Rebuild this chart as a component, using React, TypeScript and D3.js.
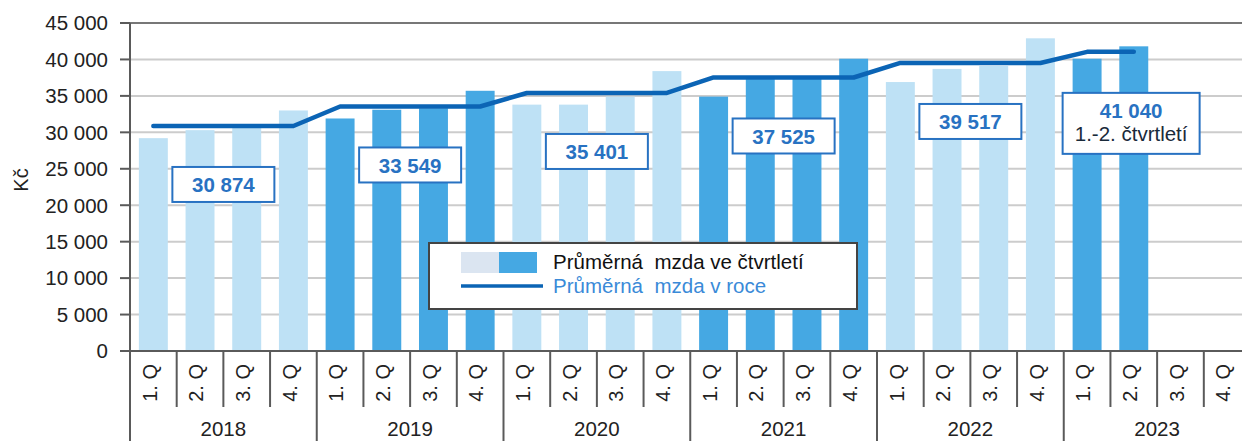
import React from "react";
import * as d3 from "d3";

const years = ["2018", "2019", "2020", "2021", "2022", "2023"];
const quarterLabels = ["1. Q", "2. Q", "3. Q", "4. Q"];
const wage2018 = [29200, 30300, 30700, 33000];
const wage2019 = [31900, 33100, 33300, 35700];
const wage2020 = [33800, 33800, 34900, 38400];
const wage2021 = [34900, 37300, 37400, 40100];
const wage2022 = [36900, 38700, 39100, 42900];
const wage2023 = [40100, 41800, null, null];
const annualWage = [30874, 33549, 35401, 37525, 39517, 41040];
const annualLabels = ["30 874", "33 549", "35 401", "37 525", "39 517", "41 040"];
const yTicks = [0, 5000, 10000, 15000, 20000, 25000, 30000, 35000, 40000, 45000];
const legendQuarter = "Průměrná  mzda ve čtvrtletí";
const legendYear = "Průměrná  mzda v roce";
const partialNote = "1.-2. čtvrtletí";

const quarterlyByYear = [wage2018, wage2019, wage2020, wage2021, wage2022, wage2023];

type Row = { key: string; year: number; q: number; value: number | null };
const rows: Row[] = [];
years.forEach((y, yi) =>
  quarterLabels.forEach((q, qi) =>
    rows.push({ key: `${y}-${qi}`, year: yi, q: qi, value: quarterlyByYear[yi][qi] })
  )
);

const W = 1242;
const H = 441;
const left = 130;
const right = 1250.5;
const top = 23;
const bottom = 351;

const LIGHT = "#bee1f5";
const DARK = "#45a8e3";
const LINE = "#0b64b5";
const LABEL_BLUE = "#2872c2";
const AXIS = "#5a5a5a";
const GRID = "#cccccc";
const FONT = "'Liberation Sans', Arial, sans-serif";

function fmt(v: number) {
  return d3.format(",")(v).replace(/,/g, " ");
}

export default function App() {
  const x = d3.scaleBand<string>().domain(rows.map((r) => r.key)).range([left, right]).paddingInner(0.38).paddingOuter(0.19);
  const xc = d3.scaleBand<string>().domain(rows.map((r) => r.key)).range([left, right]);
  const y = d3.scaleLinear().domain([0, 45000]).range([bottom, top]);
  const bw = xc.bandwidth();

  const linePts = rows
    .filter((r) => r.value !== null)
    .map((r) => [xc(r.key)! + bw / 2, y(annualWage[r.year])] as [number, number]);
  const linePath = d3.line()(linePts)!;

  const yearStart = (i: number) => xc(`${years[i]}-0`)!;
  const yearCenter = (i: number) => yearStart(i) + bw * 2;

  return (
    <svg width={W} height={H} style={{ position: "absolute", left: 0, top: 0, background: "#fff" }} fontFamily={FONT}>
      {/* grid */}
      {yTicks.map((t) => (
        <line key={t} x1={left} x2={W} y1={y(t)} y2={y(t)} stroke={t === 45000 ? "#777" : GRID} strokeWidth={2} />
      ))}
      {/* y ticks + labels */}
      {yTicks.map((t) => (
        <g key={"t" + t}>
          <line x1={120} x2={left} y1={y(t)} y2={y(t)} stroke={AXIS} strokeWidth={2} />
          <text x={108} y={y(t)} dy="0.36em" textAnchor="end" fontSize={20.5} fill="#222">
            {fmt(t)}
          </text>
        </g>
      ))}
      <text transform={`translate(28,${180}) rotate(-90)`} textAnchor="middle" fontSize={20} fill="#222">
        Kč
      </text>
      {/* bars */}
      {rows.map((r) =>
        r.value === null ? null : (
          <rect
            key={r.key}
            x={x(r.key)!}
            width={x.bandwidth()}
            y={y(r.value)}
            height={y(0) - y(r.value)}
            fill={r.year % 2 === 0 ? LIGHT : DARK}
          />
        )
      )}
      {/* axes */}
      <line x1={left} x2={W} y1={bottom} y2={bottom} stroke={AXIS} strokeWidth={2} />
      <line x1={left} x2={left} y1={top} y2={H} stroke={AXIS} strokeWidth={2} />
      {rows.map((r) => (
        <line
          key={"d" + r.key}
          x1={xc(r.key)!}
          x2={xc(r.key)!}
          y1={bottom}
          y2={r.q === 0 ? H : 407}
          stroke={AXIS}
          strokeWidth={2}
        />
      ))}
      {rows.map((r) => (
        <text
          key={"q" + r.key}
          transform={`translate(${xc(r.key)! + bw / 2 - 4},364) rotate(-90)`}
          dy="0.36em"
          textAnchor="end"
          fontSize={20}
          fill="#222"
        >
          {quarterLabels[r.q]}
        </text>
      ))}
      {years.map((yr, i) => (
        <text key={yr} x={yearCenter(i)} y={436} textAnchor="middle" fontSize={20.5} fill="#222">
          {yr}
        </text>
      ))}
      {/* annual line */}
      <path d={linePath} fill="none" stroke={LINE} strokeWidth={4.5} strokeLinejoin="round" strokeLinecap="round" />
      {/* annual labels */}
      {annualWage.map((v, i) => {
        const last = i === annualWage.length - 1;
        const cx = last ? yearCenter(i) - 26 : yearCenter(i);
        const bwid = last ? 137 : 102;
        const bh = last ? 61 : 35;
        const by = y(v) + 41;
        return (
          <g key={"l" + i}>
            <rect x={cx - bwid / 2} y={by} width={bwid} height={bh} fill="#fff" stroke={LABEL_BLUE} strokeWidth={2} />
            <text x={cx} y={by + 18} dy="0.36em" textAnchor="middle" fontSize={20.5} fontWeight="bold" fill={LABEL_BLUE}>
              {annualLabels[i]}
            </text>
            {last && (
              <text x={cx} y={by + 41} dy="0.36em" textAnchor="middle" fontSize={20.5} fill="#1a2a3a">
                {partialNote}
              </text>
            )}
          </g>
        );
      })}
      {/* legend */}
      <g>
        <rect x={429} y={243} width={428} height={66} fill="#fff" stroke="#444" strokeWidth={2} />
        <rect x={461} y={252} width={38} height={21} fill="#dbe5f1" />
        <rect x={499} y={252} width={38} height={21} fill={DARK} />
        <line x1={461} x2={543} y1={286} y2={286} stroke={LINE} strokeWidth={3.5} />
        <text x={553} y={262} dy="0.36em" fontSize={20.5} fill="#111" style={{ whiteSpace: "pre" }}>
          {legendQuarter}
        </text>
        <text x={553} y={286} dy="0.36em" fontSize={20.5} fill="#3a8ad8" style={{ whiteSpace: "pre" }}>
          {legendYear}
        </text>
      </g>
    </svg>
  );
}
